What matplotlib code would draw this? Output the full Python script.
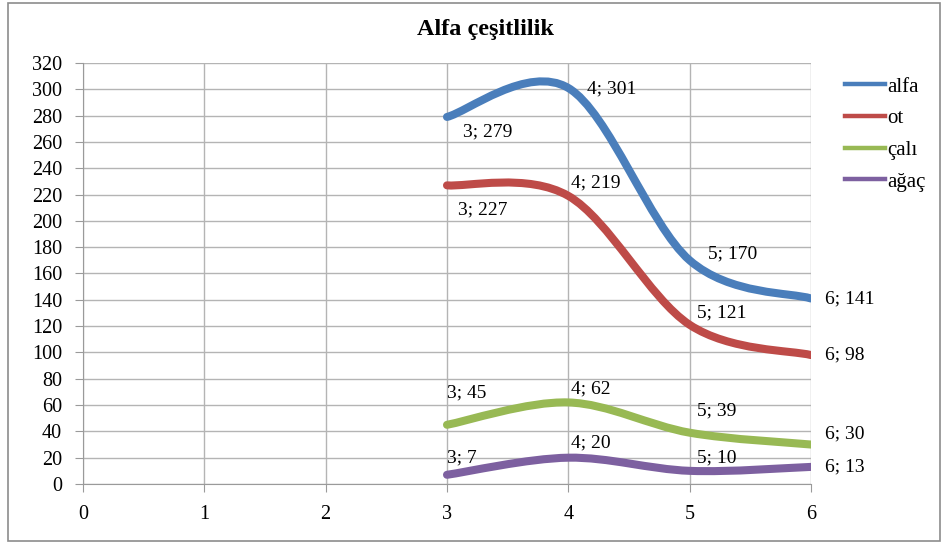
import matplotlib
matplotlib.use("Agg")
import matplotlib.pyplot as plt
from matplotlib.path import Path
from matplotlib.patches import PathPatch, Rectangle
from matplotlib.lines import Line2D

# series data
x_vals = [3, 4, 5, 6]
alfa = [279, 301, 170, 141]
ot = [227, 219, 121, 98]
cali = [45, 62, 39, 30]
agac = [7, 20, 10, 13]

names = ["alfa", "ot", "çalı", "ağaç"]
colors = ["#4A7EBB", "#BE4B48", "#98B954", "#7D60A0"]

# label offsets in pixels (dx, dy), one list per series
offsets = [
    [(16, -15), (19, -1), (18, 6), (14, 0)],
    [(11, -25), (3, 13), (7, 12), (14, 0)],
    [(0, 32), (3, 13), (7, 22), (14, 11)],
    [(0, 17), (3, 15), (7, 13), (14, 0)],
]

plt.rcParams["font.family"] = ["Liberation Serif", "DejaVu Serif"]

fig = plt.figure(figsize=(9.47, 5.44), dpi=100)
ax = fig.add_axes([83 / 947, 60 / 544, (811 - 83) / 947, (484 - 63) / 544])

# outer chart border
fig.patches.append(Rectangle((8 / 947, 3 / 544), 932 / 947, 538 / 544,
                             transform=fig.transFigure, fill=False,
                             edgecolor="#8c8c8c", lw=1.2))


def smooth_path(xs, ys):
    # cubic bezier segments, catmull-rom style control points
    pts = list(zip(xs, ys))
    n = len(pts)
    verts = [pts[0]]
    codes = [Path.MOVETO]
    for i in range(n - 1):
        p0 = pts[max(i - 1, 0)]
        p1 = pts[i]
        p2 = pts[i + 1]
        p3 = pts[min(i + 2, n - 1)]
        c1 = (p1[0] + (p2[0] - p0[0]) / 6, p1[1] + (p2[1] - p0[1]) / 6)
        c2 = (p2[0] - (p3[0] - p1[0]) / 6, p2[1] - (p3[1] - p1[1]) / 6)
        verts += [c1, c2, p2]
        codes += [Path.CURVE4] * 3
    return Path(verts, codes)


series = [alfa, ot, cali, agac]
for ys, col, offs in zip(series, colors, offsets):
    patch = PathPatch(smooth_path(x_vals, ys), fill=False, edgecolor=col,
                      lw=5.8, capstyle="round", joinstyle="round", zorder=3)
    ax.add_patch(patch)
    for xv, yv, (dx, dy) in zip(x_vals, ys, offs):
        ax.annotate(f"{xv}; {yv}", (xv, yv), xytext=(dx, dy),
                    textcoords="offset pixels", ha="left", va="center",
                    fontsize=14, zorder=4)

ax.set_xlim(0, 6)
ax.set_ylim(0, 320)
ax.set_xticks(range(0, 7))
ax.set_yticks(range(0, 321, 20))
ax.grid(True, color="#b4b4b4", lw=1)
ax.set_axisbelow(True)
for side in ["top", "right"]:
    ax.spines[side].set_visible(False)
for side in ["left", "bottom"]:
    ax.spines[side].set_color("#9a9a9a")
ax.tick_params(axis="both", length=6, color="#9a9a9a", labelsize=14.5)
ax.tick_params(axis="x", pad=9)
ax.tick_params(axis="y", pad=9)

fig.text(485 / 947, 1 - 30 / 544, "Alfa çeşitlilik", ha="center", va="center",
         fontsize=17.5, fontweight="bold")

handles = [Line2D([], [], color=c, lw=3.2) for c in colors]
fig.legend(handles, names, loc="upper left",
           bbox_to_anchor=(845 / 947, 1 - 77 / 544), frameon=False,
           fontsize=15, handlelength=1.9, handletextpad=0.15,
           labelspacing=0.58, borderpad=0, borderaxespad=0)

fig.savefig("out.png", dpi=100)
